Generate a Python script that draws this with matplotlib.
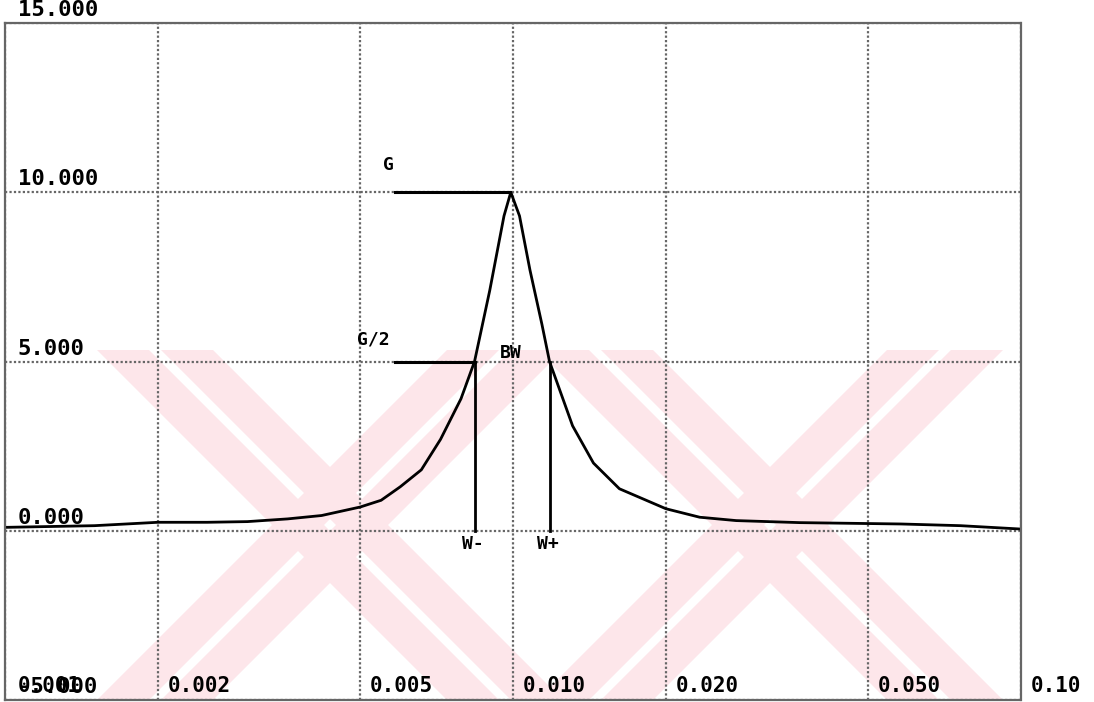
import numpy as np
import matplotlib.pyplot as plt
from matplotlib.patches import Polygon

# кривая АЧХ (частота, усиление)
freq = [0.001, 0.0015, 0.002, 0.0025, 0.003, 0.0036, 0.0042, 0.005, 0.0055, 0.006,
        0.0066, 0.0072, 0.0079, 0.0084, 0.0090, 0.0096, 0.0099, 0.0103, 0.0108, 0.0114,
        0.0118, 0.0131, 0.0144, 0.0162, 0.020, 0.0233, 0.0275, 0.0367, 0.058, 0.076, 0.1]
gain = [0.1, 0.15, 0.25, 0.25, 0.27, 0.35, 0.45, 0.7, 0.9, 1.3,
        1.8, 2.7, 3.9, 5.0, 7.1, 9.3, 10.0, 9.3, 7.7, 6.1,
        5.0, 3.1, 2.0, 1.24, 0.65, 0.4, 0.3, 0.24, 0.2, 0.15, 0.05]

x_ticks = [0.001, 0.002, 0.005, 0.010, 0.020, 0.050, 0.10]
x_labels = ['0.001', '0.002', '0.005', '0.010', '0.020', '0.050', '0.10']
y_ticks = [-5, 0, 5, 10, 15]
y_labels = ['-5.000', '0.000', '5.000', '10.000', '15.000']

G = 10.0
f_peak = 0.00987
w_minus = 0.0084
w_plus = 0.0118
f_line_start = 0.00585

W, H = 1094, 702
fig = plt.figure(figsize=(W / 100, H / 100), dpi=100)
ax = fig.add_axes([5 / W, 2 / H, (1021 - 5) / W, (700 - 23) / H])

# водяной знак (две розовые буквы X)
def px(x, y):
    return (x / W, 1 - y / H)

pink = '#fde6ea'
for cx in (330, 770):
    for sgn in (1, -1):
        for off in (-32, 32):
            w = 26
            x_top = cx - sgn * 175 + off
            x_bot = cx + sgn * 175 + off
            pts = [px(x_top - w, 350), px(x_top + w, 350), px(x_bot + w, 700), px(x_bot - w, 700)]
            fig.add_artist(Polygon(pts, closed=True, transform=fig.transFigure,
                                   facecolor=pink, edgecolor='none', zorder=-10))
ax.patch.set_alpha(0)

ax.set_xscale('log')
ax.set_xlim(0.001, 0.1)
ax.set_ylim(-5, 15)
ax.set_xticks(x_ticks)
ax.set_yticks(y_ticks)
ax.minorticks_off()
ax.tick_params(length=0, labelbottom=False, labelleft=False)
ax.grid(True, ls=(0, (1, 1)), color='#666666', lw=1.6)
for s in ax.spines.values():
    s.set_linestyle((0, (1, 1)))
    s.set_color('#666666')
    s.set_linewidth(1.6)

# кривая
ax.plot(freq, gain, color='black', lw=2)

# вспомогательные линии
ax.plot([f_line_start, f_peak], [G, G], color='black', lw=2.2)
ax.plot([f_line_start, w_minus], [G / 2, G / 2], color='black', lw=2.2)
ax.plot([w_minus, w_minus], [0, G / 2], color='black', lw=2)
ax.plot([w_plus, w_plus], [0, G / 2], color='black', lw=2)

fnt = dict(family='DejaVu Sans Mono', color='black', fontweight='bold')
ax.text(0.00555, 10.8, 'G', fontsize=13, va='center', **fnt)
ax.text(0.00493, 5.65, 'G/2', fontsize=13, va='center', **fnt)
ax.text(0.00943, 5.0, 'BW', fontsize=13, va='bottom', **fnt)
ax.text(0.00794, -0.4, 'W-', fontsize=13, va='center', **fnt)
ax.text(0.01115, -0.4, 'W+', fontsize=13, va='center', **fnt)

# подписи осей внутри графика
for v, lab in zip(y_ticks, y_labels):
    ax.annotate(lab, xy=(0.00106, v), xytext=(0, 2), textcoords='offset points',
                va='bottom', ha='left', fontsize=16, annotation_clip=False, **fnt)
for v, lab in zip(x_ticks, x_labels):
    xv = v if v > 0.001 else 0.00106
    ax.annotate(lab, xy=(xv, -5), xytext=(7 if v > 0.001 else 0, 3), textcoords='offset points',
                va='bottom', ha='left', fontsize=15, annotation_clip=False, **fnt)

fig.savefig('out.png', dpi=100)
